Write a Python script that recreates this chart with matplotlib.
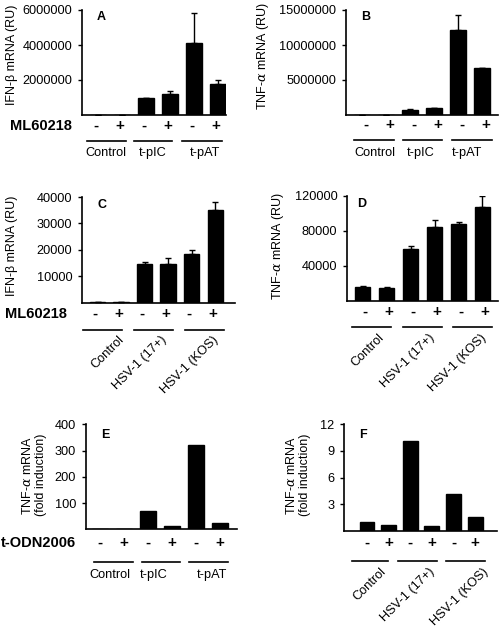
import matplotlib
matplotlib.use("Agg")
import matplotlib.pyplot as plt
import matplotlib.transforms as mtransforms
from matplotlib.lines import Line2D

plt.rcParams['font.family'] = ['Liberation Sans', 'DejaVu Sans']
plt.rcParams['mathtext.fontset'] = 'custom'
plt.rcParams['mathtext.it'] = 'DejaVu Serif:italic'

W, H = 500, 626
fig = plt.figure(figsize=(W / 100, H / 100), dpi=100)

signs = ['-', '+', '-', '+', '-', '+']
groups_A = ['Control', 't-pIC', 't-pAT']
groups_C = ['Control', 'HSV-1 (17+)', 'HSV-1 (KOS)']

# Panel A: IFN-beta (RU)
vals_A = [15000, 15000, 1000000, 1200000, 4100000, 1800000]
err_A = [0, 0, 0, 200000, 1700000, 180000]
# Panel B: TNF-alpha (RU)
vals_B = [30000, 30000, 750000, 1000000, 12200000, 6700000]
err_B = [0, 0, 100000, 0, 2100000, 0]
# Panel C: IFN-beta (RU)
vals_C = [100, 100, 14500, 14700, 18400, 35000]
err_C = [0, 0, 900, 2100, 1600, 3000]
# Panel D: TNF-alpha (RU)
vals_D = [16000, 15000, 59000, 85000, 88000, 107000]
err_D = [600, 600, 3500, 7200, 2000, 13000]
# Panel E: fold induction
vals_E = [1, 1, 70, 12, 320, 23]
# Panel F: fold induction
vals_F = [1.0, 0.7, 10.1, 0.52, 4.15, 1.55]

ticks_A = [2000000, 4000000, 6000000]
ticks_B = [5000000, 10000000, 15000000]
ticks_C = [10000, 20000, 30000, 40000]
ticks_D = [40000, 80000, 120000]
ticks_E = [100, 200, 300, 400]
ticks_F = [3, 6, 9, 12]

FS = 9.2
YL = 9.0


def mkax(l, r, t, b):
    return fig.add_axes([l / W, 1 - b / H, (r - l) / W, (b - t) / H])


def style(ax, ticks, ymax, xlim):
    ax.set_ylim(0, ymax)
    ax.set_xlim(*xlim)
    ax.set_yticks(ticks)
    ax.set_yticklabels([str(t) for t in ticks], fontsize=FS)
    ax.set_xticks([])
    for s in ['top', 'right']:
        ax.spines[s].set_visible(False)
    for s in ['left', 'bottom']:
        ax.spines[s].set_linewidth(1.2)
    ax.tick_params(axis='y', direction='out', length=3, width=1, pad=4)


def bars(ax, vals, err=None, width=0.66):
    x = list(range(len(vals)))
    ax.bar(x, vals, width=width, color='black', edgecolor='black')
    if err is not None:
        ax.errorbar(x, vals, yerr=[[0] * len(err), err], fmt='none',
                    ecolor='black', elinewidth=1, capsize=2.5, capthick=1)


def decor(ax, sign_y, sign_off, line_y, lines, labels, label_y, label_x,
          rotated=False):
    tr = mtransforms.blended_transform_factory(ax.transData, fig.transFigure)
    for i, s in enumerate(signs):
        ax.text(i + sign_off, 1 - sign_y / H, s, transform=tr, ha='center',
                va='center', fontsize=11, fontweight='bold', clip_on=False)
    for (x0, x1) in lines:
        fig.add_artist(Line2D([x0 / W, x1 / W], [1 - line_y / H] * 2,
                              color='black', lw=1.2))
    for lab, lx in zip(labels, label_x):
        if rotated:
            fig.text(lx / W, 1 - label_y / H, lab, rotation=45,
                     rotation_mode='anchor', ha='right', va='top', fontsize=FS)
        else:
            fig.text(lx / W, 1 - label_y / H, lab, ha='center', va='center',
                     fontsize=FS)


# ---------- A ----------
axA = mkax(82, 226, 10, 115)
bars(axA, vals_A, err_A)
style(axA, ticks_A, 6000000, (-0.67, 5.33))
axA.text(0.1, 0.93, 'A', transform=axA.transAxes, fontweight='bold', fontsize=9,
         va='center')
decor(axA, 126, -0.1, 140.5, [(87, 126), (134, 172), (182, 222)], groups_A, 153,
      [106, 153, 205])
fig.text(41 / W, 1 - 126 / H, 'ML60218', ha='center', va='center',
         fontsize=10.5, fontweight='bold')
fig.text(12 / W, 1 - 55 / H, 'IFN-β mRNA (RU)', rotation=90, ha='center',
         va='center', fontsize=YL)

# ---------- B ----------
axB = mkax(346, 498, 10, 115)
bars(axB, vals_B, err_B, width=0.7)
style(axB, ticks_B, 15000000, (-0.67, 5.67))
axB.text(0.1, 0.93, 'B', transform=axB.transAxes, fontweight='bold', fontsize=9,
         va='center')
decor(axB, 125, 0.15, 140, [(354, 394), (403, 442), (452, 492)], groups_A, 153,
      [375, 421, 467])
fig.text(263 / W, 1 - 56 / H, r'TNF-$\alpha$ mRNA (RU)', rotation=90,
         ha='center', va='center', fontsize=YL)

# ---------- C ----------
axC = mkax(82, 235, 197, 302.7)
bars(axC, vals_C, err_C, width=0.64)
style(axC, ticks_C, 40000, (-0.66, 5.85))
axC.text(0.1, 0.92, 'C', transform=axC.transAxes, fontweight='bold', fontsize=9,
         va='center')
decor(axC, 314, -0.1, 330, [(83, 122), (134, 173), (185, 224)], groups_C, 334,
      [118, 160, 212], rotated=True)
fig.text(36 / W, 1 - 314 / H, 'ML60218', ha='center', va='center',
         fontsize=10.5, fontweight='bold')
fig.text(12 / W, 1 - 246 / H, 'IFN-β mRNA (RU)', rotation=90, ha='center',
         va='center', fontsize=YL)

# ---------- D ----------
axD = mkax(347, 498, 196, 300.7)
bars(axD, vals_D, err_D, width=0.64)
style(axD, ticks_D, 120000, (-0.66, 5.65))
axD.text(0.07, 0.92, 'D', transform=axD.transAxes, fontweight='bold', fontsize=9,
         va='center')
decor(axD, 312, 0.1, 327, [(352, 391), (403, 442), (453, 492)], groups_C, 332,
      [378, 428, 480], rotated=True)
fig.text(278 / W, 1 - 246 / H, r'TNF-$\alpha$ mRNA (RU)', rotation=90,
         ha='center', va='center', fontsize=YL)

# ---------- E ----------
axE = mkax(85.7, 236.7, 424.3, 529.3)
bars(axE, vals_E, width=0.66)
style(axE, ticks_E, 400, (-0.6, 5.7))
axE.text(0.1, 0.9, 'E', transform=axE.transAxes, fontweight='bold', fontsize=9,
         va='center')
decor(axE, 543, 0.0, 561.7, [(94, 133), (142, 180), (189, 228)], groups_A, 575,
      [110, 154, 212])
fig.text(38 / W, 1 - 543 / H, 't-ODN2006', ha='center', va='center',
         fontsize=10.5, fontweight='bold')
fig.text(34 / W, 1 - 475 / H, 'TNF-$\\alpha$ mRNA\n(fold induction)', rotation=90,
         ha='center', va='center', fontsize=YL, linespacing=1.15)

# ---------- F ----------
axF = mkax(344.3, 496.7, 424.3, 531)
bars(axF, vals_F, width=0.69)
style(axF, ticks_F, 12, (-1.05, 6.0))
axF.text(0.1, 0.9, 'F', transform=axF.transAxes, fontweight='bold', fontsize=9,
         va='center')
decor(axF, 543, 0.0, 560.7, [(352, 388), (398, 437), (446, 485)], groups_C, 566,
      [380, 428, 482], rotated=True)
fig.text(298 / W, 1 - 475 / H, 'TNF-$\\alpha$ mRNA\n(fold induction)', rotation=90,
         ha='center', va='center', fontsize=YL, linespacing=1.15)

fig.savefig('out.png', dpi=100)
